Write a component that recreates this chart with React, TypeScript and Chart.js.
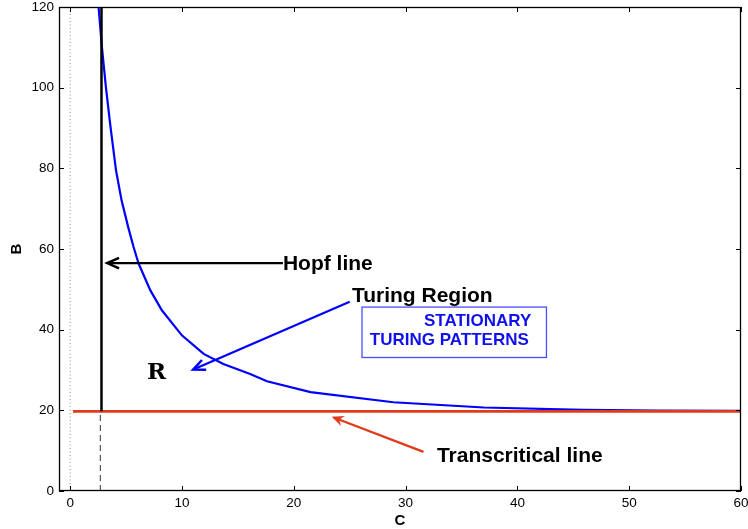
import React, { useEffect, useRef } from 'react';
import { Chart, registerables } from 'chart.js';

Chart.register(...registerables);

// ---- data ----
const xTicks = [0, 10, 20, 30, 40, 50, 60];
const yTicks = [0, 20, 40, 60, 80, 100, 120];

// Turing curve (blue)
const turingC = [2.54, 2.83, 3.2, 3.6, 4.1, 4.6, 5.2, 5.67, 6.12, 7.16, 8.2, 9.99, 11.94, 13.7, 16.1, 17.6, 21.5, 28.9, 37.0, 45.9, 52.5, 60];
const turingB = [120, 110.3, 100, 90.4, 79.5, 72, 65.3, 60.5, 56.4, 49.8, 44.8, 38.6, 34.0, 31.5, 29.0, 27.2, 24.5, 22.0, 20.7, 20.1, 19.95, 19.9];

// Hopf line (black vertical)
const hopfC = [2.8, 2.8];
const hopfB = [19.75, 120];

// dashed guide below the Hopf line
const dashC = [2.7, 2.7];
const dashB = [0, 19.75];

// dotted line at C = 0
const zeroC = [0, 0];
const zeroB = [0, 120];

// transcritical line (red horizontal)
const transC = [0.25, 60];
const transB = [19.75, 19.75];

// annotation arrows: [fromC, fromB, toC, toB]
const hopfArrow = [19.03, 56.5, 3.31, 56.5];
const turingArrow = [25.0, 46.9, 11.0, 30.1];
const transArrow = [31.6, 9.7, 23.4, 18.4];

// annotation texts
const hopfText = 'Hopf line';
const turingText = 'Turing Region';
const transText = 'Transcritical line';
const regionText = 'R';
const boxLine1 = 'STATIONARY';
const boxLine2 = 'TURING PATTERNS';

const toPts = (xs: number[], ys: number[]) => xs.map((x, i) => ({ x, y: ys[i] }));

const SANS = '"Liberation Sans", Arial, Helvetica, sans-serif';
const SLAB = '"DejaVu Serif", "Liberation Serif", serif';

const overlay = {
  id: 'overlay',
  afterDatasetsDraw(chart: any) {
    const { ctx, chartArea: a, scales } = chart;
    const xs = scales.x;
    const ys = scales.y;
    const px = (v: number) => xs.getPixelForValue(v);
    const py = (v: number) => ys.getPixelForValue(v);
    ctx.save();

    // frame
    ctx.strokeStyle = '#000';
    ctx.lineWidth = 1.3;
    ctx.strokeRect(a.left + 0.5, a.top + 0.5, a.right - a.left - 1, a.bottom - a.top - 1);

    // inward ticks
    const tl = 5;
    ctx.lineWidth = 1;
    ctx.beginPath();
    xTicks.forEach((t) => {
      const x = Math.round(px(t)) + 0.5;
      ctx.moveTo(x, a.bottom);
      ctx.lineTo(x, a.bottom - tl);
      ctx.moveTo(x, a.top);
      ctx.lineTo(x, a.top + tl);
    });
    yTicks.forEach((t) => {
      const y = Math.round(py(t)) + 0.5;
      ctx.moveTo(a.left, y);
      ctx.lineTo(a.left + tl, y);
      ctx.moveTo(a.right, y);
      ctx.lineTo(a.right - tl, y);
    });
    ctx.stroke();

    // arrows
    const drawArrow = (arr: number[], color: string, filled: boolean) => {
      const x1 = px(arr[0]), y1 = py(arr[1]), x2 = px(arr[2]), y2 = py(arr[3]);
      const ang = Math.atan2(y2 - y1, x2 - x1);
      const hl = 13, hw = 0.42;
      ctx.strokeStyle = color;
      ctx.fillStyle = color;
      ctx.lineWidth = 2.2;
      ctx.lineCap = 'butt';
      ctx.beginPath();
      ctx.moveTo(x1, y1);
      ctx.lineTo(x2 - Math.cos(ang) * 2, y2 - Math.sin(ang) * 2);
      ctx.stroke();
      const bx1 = x2 - hl * Math.cos(ang - hw), by1 = y2 - hl * Math.sin(ang - hw);
      const bx2 = x2 - hl * Math.cos(ang + hw), by2 = y2 - hl * Math.sin(ang + hw);
      ctx.beginPath();
      if (filled) {
        ctx.moveTo(x2, y2);
        ctx.lineTo(bx1, by1);
        ctx.lineTo(x2 - 8 * Math.cos(ang), y2 - 8 * Math.sin(ang));
        ctx.lineTo(bx2, by2);
        ctx.closePath();
        ctx.fill();
      } else {
        ctx.lineWidth = 2.5;
        ctx.lineJoin = 'miter';
        ctx.moveTo(bx1, by1);
        ctx.lineTo(x2, y2);
        ctx.lineTo(bx2, by2);
        ctx.stroke();
      }
    };
    drawArrow(hopfArrow, '#000000', false);
    drawArrow(turingArrow, '#0000ff', false);
    drawArrow(transArrow, '#e03a1a', true);

    // text box
    ctx.strokeStyle = '#4d4dff';
    ctx.lineWidth = 1.3;
    const bl = px(26.1), br = px(42.6), bt = py(45.6), bb = py(33.1);
    ctx.strokeRect(bl, bt, br - bl, bb - bt);

    ctx.textBaseline = 'alphabetic';
    ctx.textAlign = 'left';
    ctx.fillStyle = '#000';
    ctx.font = `bold 21px ${SANS}`;
    ctx.fillText(hopfText, px(19.03), py(54.8));
    ctx.fillText(turingText, px(25.2), py(46.9));
    ctx.fillText(transText, px(32.8), py(7.2));

    ctx.font = `bold 23px ${SLAB}`;
    ctx.fillText(regionText, px(6.88), py(27.75));

    ctx.fillStyle = '#1010ee';
    ctx.font = `bold 17px ${SANS}`;
    ctx.fillText(boxLine1, px(31.64), py(40.9));
    ctx.fillText(boxLine2, px(26.8), py(36.2));

    ctx.restore();
  },
};

export default function App() {
  const ref = useRef<HTMLCanvasElement | null>(null);
  useEffect(() => {
    if (!ref.current) return;
    const line = (data: any, color: string, width: number, dash: number[] = []) => ({
      data,
      borderColor: color,
      borderWidth: width,
      borderDash: dash,
      pointRadius: 0,
      showLine: true,
      tension: 0,
      fill: false,
    });
    const chart = new Chart(ref.current, {
      type: 'scatter',
      data: {
        datasets: [
          line(toPts(zeroC, zeroB), '#8a8a8a', 1, [1, 2.5]),
          line(toPts(dashC, dashB), '#555555', 1.2, [6, 4]),
          line(toPts(hopfC, hopfB), '#000000', 2.5),
          line(toPts(transC, transB), '#e03a1a', 2.6),
          line(toPts(turingC, turingB), '#0000ff', 2.2),
        ] as any,
      },
      options: {
        animation: false,
        responsive: false,
        events: [],
        layout: { padding: { top: 7, right: 7, left: 0, bottom: 0 } },
        plugins: { legend: { display: false }, tooltip: { enabled: false } },
        scales: {
          x: {
            type: 'linear',
            min: -1,
            max: 60,
            grid: { display: false, drawTicks: false, tickLength: 0 },
            border: { display: false },
            afterBuildTicks: (s: any) => { s.ticks = xTicks.map((v) => ({ value: v })); },
            afterFit: (s: any) => { s.height = 38; s.paddingLeft = 0; s.paddingRight = 0; },
            ticks: { color: '#000', padding: 4, font: { family: SANS, size: 13.5 }, maxRotation: 0 },
            title: { display: true, text: 'C', color: '#000', font: { family: SANS, size: 15, weight: 'bold' }, padding: { top: 0, bottom: -1 } },
          },
          y: {
            type: 'linear',
            min: 0,
            max: 120,
            grid: { display: false, drawTicks: false, tickLength: 0 },
            border: { display: false },
            afterBuildTicks: (s: any) => { s.ticks = yTicks.map((v) => ({ value: v })); },
            afterFit: (s: any) => { s.width = 59; s.paddingTop = 0; s.paddingBottom = 0; },
            ticks: { color: '#000', padding: 5, font: { family: SANS, size: 13.5 } },
            title: { display: true, text: 'B', color: '#000', font: { family: SANS, size: 15, weight: 'bold' }, padding: { top: 7.5, bottom: 0 } },
          },
        },
      } as any,
      plugins: [overlay],
    });
    return () => chart.destroy();
  }, []);
  return (
    <div style={{ position: 'fixed', left: 0, top: 0, width: 748, height: 529, background: '#fff' }}>
      <canvas ref={ref} width={748} height={529} />
    </div>
  );
}
